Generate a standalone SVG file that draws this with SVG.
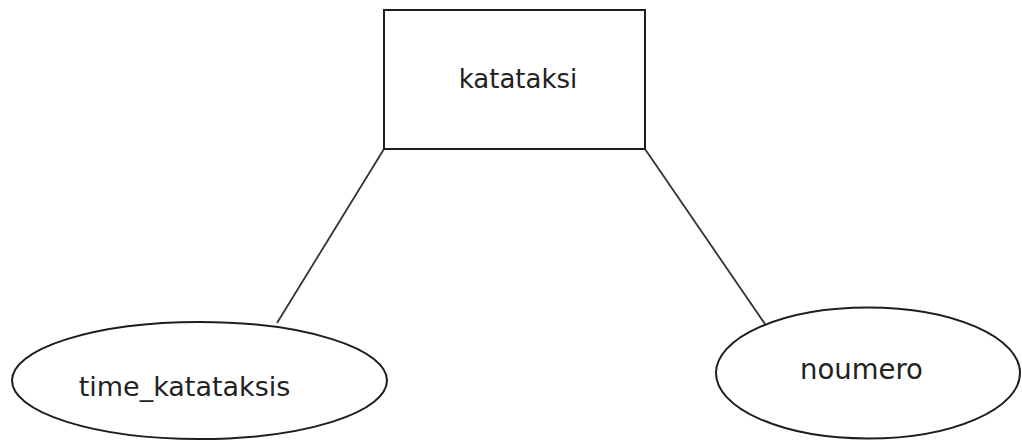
<svg xmlns="http://www.w3.org/2000/svg" width="1022" height="441" viewBox="0 0 1022 441">
  <style>
    .shape { fill: #ffffff; stroke: #1e1e1e; stroke-width: 2; }
    .edge { stroke: #333333; stroke-width: 1.8; fill: none; }
    .label { font-family: "DejaVu Sans", "Noto Sans", sans-serif; font-size: 26px; fill: #222222; text-anchor: middle; }
  </style>
  <rect width="1022" height="441" fill="#ffffff"/>
  <g id="connectors">
    <line class="edge" x1="384" y1="149" x2="277" y2="323"/>
    <line class="edge" x1="645" y1="149" x2="765" y2="324"/>
  </g>
  <g id="entity-katataksi">
    <rect class="shape" x="384" y="10" width="261" height="139"/>
    <text class="label" x="518" y="88">katataksi</text>
  </g>
  <g id="attr-time_katataksis">
    <ellipse class="shape" cx="199.5" cy="380.5" rx="187.5" ry="58.5"/>
    <text class="label" x="184.5" y="396" style="font-size:27px">time_katataksis</text>
  </g>
  <g id="attr-noumero">
    <ellipse class="shape" cx="868" cy="373" rx="152" ry="65.5"/>
    <text class="label" x="861.5" y="379" style="font-size:27.5px">noumero</text>
  </g>
</svg>
